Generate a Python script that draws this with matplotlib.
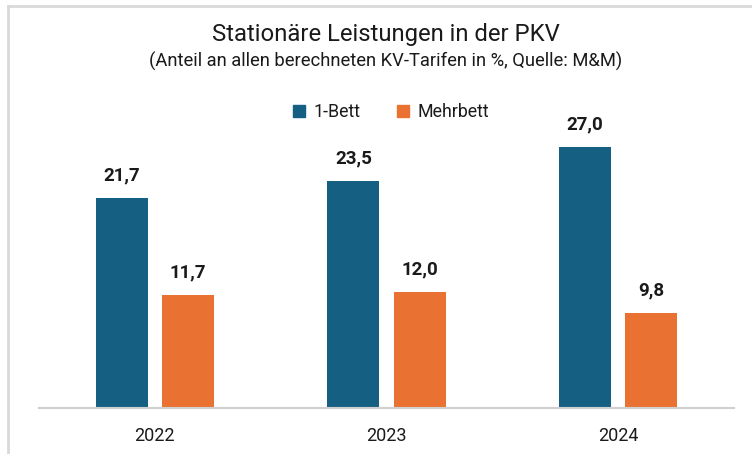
import numpy as np
import matplotlib
matplotlib.use("Agg")
import matplotlib.pyplot as plt
from matplotlib.patches import Patch
from matplotlib.lines import Line2D

# data
years = ["2022", "2023", "2024"]
einbett = [21.7, 23.5, 27.0]
mehrbett = [11.7, 12.0, 9.8]
series_names = ["1-Bett", "Mehrbett"]

title = "Stationäre Leistungen in der PKV"
subtitle = "(Anteil an allen berechneten KV-Tarifen in %, Quelle: M&M)"

BLUE = "#156082"
ORANGE = "#E97132"
TEXT = "#1a1a1a"
H = 454  # figure height in px, used to place the header texts

plt.rcParams["font.family"] = ["Roboto", "DejaVu Sans"]

fig = plt.figure(figsize=(7.52, 4.54), dpi=100)
ax = fig.add_axes([39 / 752, 46 / H, 695 / 752, 290 / H])

x = np.arange(len(years))
w = 52 / 231.5
gap = 14 / 231.5
off = (w + gap) / 2

b1 = ax.bar(x - off, einbett, w, color=BLUE)
b2 = ax.bar(x + off, mehrbett, w, color=ORANGE)

for bars, vals in ((b1, einbett), (b2, mehrbett)):
    for rect, v in zip(bars, vals):
        ax.annotate(f"{v:.1f}".replace(".", ","),
                    (rect.get_x() + rect.get_width() / 2, rect.get_height()),
                    xytext=(0, 10), textcoords="offset points",
                    ha="center", va="bottom", fontsize=13.5, fontweight="bold", color=TEXT)

ax.set_xlim(-0.5, 2.5)
ax.set_ylim(0, 30)
ax.set_xticks(x)
ax.set_xticklabels(years, fontsize=13, color=TEXT)
ax.tick_params(axis="x", length=0, pad=14)
ax.set_yticks([])
for s in ("top", "right", "left"):
    ax.spines[s].set_visible(False)
ax.spines["bottom"].set_color("#d0d0d0")
ax.spines["bottom"].set_linewidth(1.5)

fig.text(0.513, (H - 35) / H, title, fontsize=17.2, color=TEXT, ha="center", va="center")
fig.text(0.513, (H - 61) / H, subtitle, fontsize=13.2, color=TEXT, ha="center", va="center")

handles = [Patch(color=BLUE), Patch(color=ORANGE)]
fig.legend(handles, series_names, loc="center", bbox_to_anchor=(0.52, (H - 112) / H),
           ncol=2, frameon=False, fontsize=12.8, handlelength=0.7, handleheight=0.7,
           handletextpad=0.5, columnspacing=2.0, labelcolor=TEXT)

# light frame of the chart area
fig.add_artist(Line2D([7.5 / 752, 1], [1 - 5.5 / H] * 2, color="#d9d9d9", lw=2))
fig.add_artist(Line2D([7.5 / 752] * 2, [0, 1 - 5.5 / H], color="#d9d9d9", lw=2))

fig.savefig("out.png", dpi=100)
